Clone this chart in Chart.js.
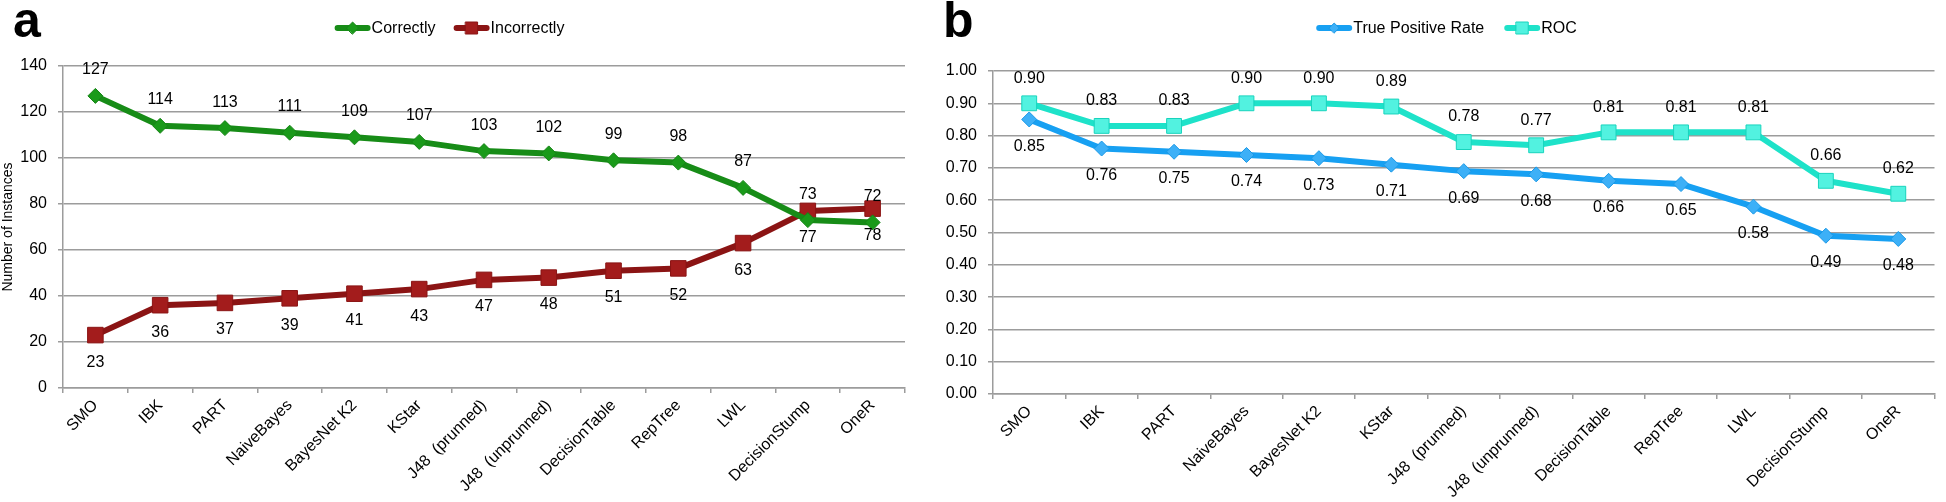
<!DOCTYPE html>
<html>
<head>
<meta charset="utf-8">
<script src="https://cdn.jsdelivr.net/npm/chart.js@4/dist/chart.umd.min.js"></script>
<style>
  body { margin: 0; background: #fff; width: 1946px; height: 502px; position: relative; overflow: hidden;
         font-family: "Liberation Sans", Arial, sans-serif; }
  .panel { position: absolute; top: 0; }
  .tag { position: absolute; font-weight: bold; font-size: 50px; line-height: 50px; color: #000; }
</style>
</head>
<body>
<canvas id="chart-a" class="panel" style="left:0" width="930" height="502"></canvas>
<canvas id="chart-b" class="panel" style="left:930px" width="1016" height="502"></canvas>
<div class="tag" style="left:13px;top:-5px">a</div>
<div class="tag" style="left:943px;top:-5px">b</div>
<script>
// data
const classifiers = ['SMO', 'IBK', 'PART', 'NaiveBayes', 'BayesNet K2', 'KStar', 'J48  (prunned)',
  'J48  (unprunned)', 'DecisionTable', 'RepTree', 'LWL', 'DecisionStump', 'OneR'];
const correctly = [127, 114, 113, 111, 109, 107, 103, 102, 99, 98, 87, 73, 72];
const incorrectly = [23, 36, 37, 39, 41, 43, 47, 48, 51, 52, 63, 77, 78];
const truePositiveRate = [0.85, 0.76, 0.75, 0.74, 0.73, 0.71, 0.69, 0.68, 0.66, 0.65, 0.58, 0.49, 0.48];
const roc = [0.90, 0.83, 0.83, 0.90, 0.90, 0.89, 0.78, 0.77, 0.81, 0.81, 0.81, 0.66, 0.62];
const instanceTicks = { min: 0, max: 140, step: 20 };
const rateTicks = { min: 0, max: 1, step: 0.1 };

const GRID = '#9c9c9c';
Chart.defaults.font.family = '"Liberation Sans", Arial, sans-serif';
Chart.defaults.font.size = 16;
Chart.defaults.color = '#000';

// legend: thick line with the marker in the middle, then the label
const lineLegend = {
  id: 'lineLegend',
  afterDraw(chart, args, opts) {
    const ctx = chart.ctx;
    ctx.save();
    ctx.font = '16px "Liberation Sans", Arial, sans-serif';
    ctx.textBaseline = 'middle';
    ctx.textAlign = 'left';
    const items = chart.data.datasets.map(ds => ({ ds, w: 38 + ctx.measureText(ds.label).width }));
    const total = items.reduce((s, it) => s + it.w, 0) + opts.gap * (items.length - 1);
    let x = opts.centerX - total / 2;
    const y = opts.y;
    items.forEach(it => {
      const ds = it.ds;
      ctx.strokeStyle = ds.borderColor;
      ctx.lineWidth = 6;
      ctx.lineCap = 'round';
      ctx.beginPath(); ctx.moveTo(x + 3, y); ctx.lineTo(x + 33, y); ctx.stroke();
      ctx.fillStyle = ds.pointBackgroundColor;
      ctx.strokeStyle = ds.pointBorderColor;
      ctx.lineWidth = 1;
      const r = ds.legendMarker;
      ctx.beginPath();
      if (ds.pointStyle === 'rect') {
        ctx.rect(x + 18 - r, y - r, 2 * r, 2 * r);
      } else {
        ctx.moveTo(x + 18 - r, y); ctx.lineTo(x + 18, y - r);
        ctx.lineTo(x + 18 + r, y); ctx.lineTo(x + 18, y + r); ctx.closePath();
      }
      ctx.fill(); ctx.stroke();
      ctx.fillStyle = '#000';
      ctx.fillText(ds.label, x + 37, y + 1);
      x += it.w + opts.gap;
    });
    ctx.restore();
  }
};

// value labels above / below each point
const valueLabels = {
  id: 'valueLabels',
  afterDatasetsDraw(chart, args, opts) {
    const ctx = chart.ctx;
    ctx.save();
    ctx.font = '16px "Liberation Sans", Arial, sans-serif';
    ctx.textAlign = 'center';
    ctx.textBaseline = 'middle';
    ctx.fillStyle = '#000';
    chart.data.datasets.forEach((ds, i) => {
      chart.getDatasetMeta(i).data.forEach((pt, j) => {
        ctx.fillText(opts.format(ds.data[j]), pt.x, pt.y + ds.labelOffset);
      });
    });
    ctx.restore();
  }
};

function xAxis(height) {
  return {
    type: 'category',
    offset: true,
    grid: { offset: true, drawOnChartArea: false, drawTicks: true, tickLength: 5, color: GRID, lineWidth: 1.5 },
    border: { color: GRID, width: 1.5 },
    ticks: { autoSkip: false, minRotation: 45, maxRotation: 45, padding: 3, color: '#000', font: { size: 16 } },
    afterFit: s => { s.height = height; }
  };
}

function yAxis(t, fmt, title) {
  return {
    min: t.min, max: t.max,
    ticks: { stepSize: t.step, padding: 11, color: '#000', font: { size: 16 }, callback: fmt },
    grid: { color: GRID, lineWidth: 1.5, tickLength: 5 },
    border: { color: GRID, width: 1.5 },
    title: title ? { display: true, text: title, font: { size: 14 }, color: '#000', padding: 0 } : { display: false },
    afterFit: s => { s.width = 63; }
  };
}

function series(label, data, line, fill, edge, style, radius, marker, offset) {
  return {
    label, data,
    borderColor: line, borderWidth: 6, borderJoinStyle: 'round', tension: 0,
    pointStyle: style, pointRadius: radius, pointHoverRadius: radius,
    pointBackgroundColor: fill, pointBorderColor: edge, pointBorderWidth: 1,
    legendMarker: marker, labelOffset: offset
  };
}

// Panel a
new Chart(document.getElementById('chart-a').getContext('2d'), {
  type: 'line',
  data: {
    labels: classifiers,
    datasets: [
      series('Correctly', correctly, '#178c17', '#1a9a1a', '#168416', 'rectRot', 7.5, 6, -26),
      series('Incorrectly', incorrectly, '#8b1414', '#a31c1c', '#8a1414', 'rect', 11, 6, 27)
    ]
  },
  options: {
    responsive: false,
    animation: false,
    layout: { padding: { top: 66, right: 25, left: 0, bottom: 0 } },
    scales: {
      x: xAxis(114),
      y: yAxis(instanceTicks, v => v, 'Number of Instances')
    },
    plugins: {
      legend: { display: false },
      tooltip: { enabled: false },
      lineLegend: { centerX: 450, y: 28, gap: 17 },
      valueLabels: { format: v => String(v) }
    }
  },
  plugins: [lineLegend, valueLabels]
});

// Panel b
new Chart(document.getElementById('chart-b').getContext('2d'), {
  type: 'line',
  data: {
    labels: classifiers,
    datasets: [
      series('True Positive Rate', truePositiveRate, '#17a0f2', '#3db0f7', '#1a98e6', 'rectRot', 7.5, 5, 27),
      series('ROC', roc, '#1ee2c9', '#52f2e0', '#18d4bd', 'rect', 10.5, 6, -25)
    ]
  },
  options: {
    responsive: false,
    animation: false,
    layout: { padding: { top: 71, right: 1, left: 0, bottom: 0 } },
    scales: {
      x: xAxis(108),
      y: yAxis(rateTicks, v => Number(v).toFixed(2), null)
    },
    plugins: {
      legend: { display: false },
      tooltip: { enabled: false },
      lineLegend: { centerX: 517, y: 28, gap: 19 },
      valueLabels: { format: v => v.toFixed(2) }
    }
  },
  plugins: [lineLegend, valueLabels]
});
</script>
</body>
</html>
